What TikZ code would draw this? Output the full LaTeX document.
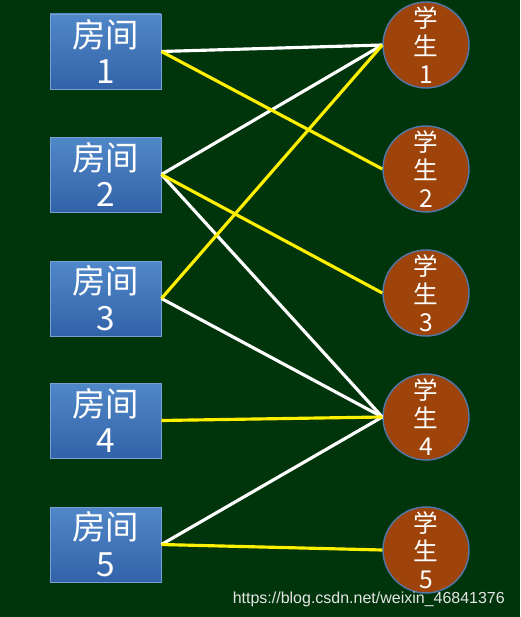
\documentclass[tikz,border=0pt]{standalone}
\usepackage{fontspec}
\setmainfont{Noto Sans CJK SC}
\newfontfamily\urlfont{Liberation Sans}
\definecolor{board}{RGB}{0,52,10}
\definecolor{roomtop}{RGB}{80,136,200}
\definecolor{roombot}{RGB}{50,98,168}
\definecolor{roomedge}{RGB}{120,160,215}
\definecolor{stufill}{RGB}{158,68,10}
\definecolor{stuedge}{RGB}{80,120,170}
\definecolor{yline}{RGB}{255,240,0}

\begin{document}
\begin{tikzpicture}[x=0.02cm,y=-0.02cm,
	room/.style={rectangle, draw=roomedge, line width=0.5pt, top color=roomtop, bottom color=roombot,
		minimum width=2.22cm, minimum height=1.5cm, inner sep=0pt, text=white, align=center,
		font=\fontsize{19}{21}\selectfont},
	stu/.style={circle, draw=stuedge, line width=0.8pt, fill=stufill, minimum size=1.72cm,
		inner sep=0pt, text=white, align=center, font=\fontsize{14}{16}\selectfont},
	pick/.style={yline, line width=1.8pt},
	other/.style={white, line width=1.8pt}]
	\fill[board] (0,0) rectangle (520,617);
	% rooms on the left, students on the right
	\foreach \i/\y in {1/51.5,2/174.5,3/298.5,4/420.5,5/544.5}
		\node[room] (r\i) at (105.5,\y) {房间\\\i};
	\foreach \i/\y in {1/45,2/169,3/293,4/417,5/550}
		\node[stu] (s\i) at (426,\y) {学\\生\\\i};
	% possible pairs
	\draw[other] (r1.east) -- (s1.west);
	\draw[other] (r2.east) -- (s1.west);
	\draw[other] (r2.east) -- (s4.west);
	\draw[other] (r3.east) -- (s4.west);
	\draw[other] (r5.east) -- (s4.west);
	% chosen pairs
	\draw[pick] (r1.east) -- (s2.west);
	\draw[pick] (r2.east) -- (s3.west);
	\draw[pick] (r3.east) -- (s1.west);
	\draw[pick] (r4.east) -- (s4.west);
	\draw[pick] (r5.east) -- (s5.west);
	\node[text=white!80!gray, font=\urlfont\fontsize{9.1}{11}\selectfont, anchor=east] (mark) at (511,599) {https://blog.csdn.net/weixin\_46841376};
\end{tikzpicture}
\end{document}
